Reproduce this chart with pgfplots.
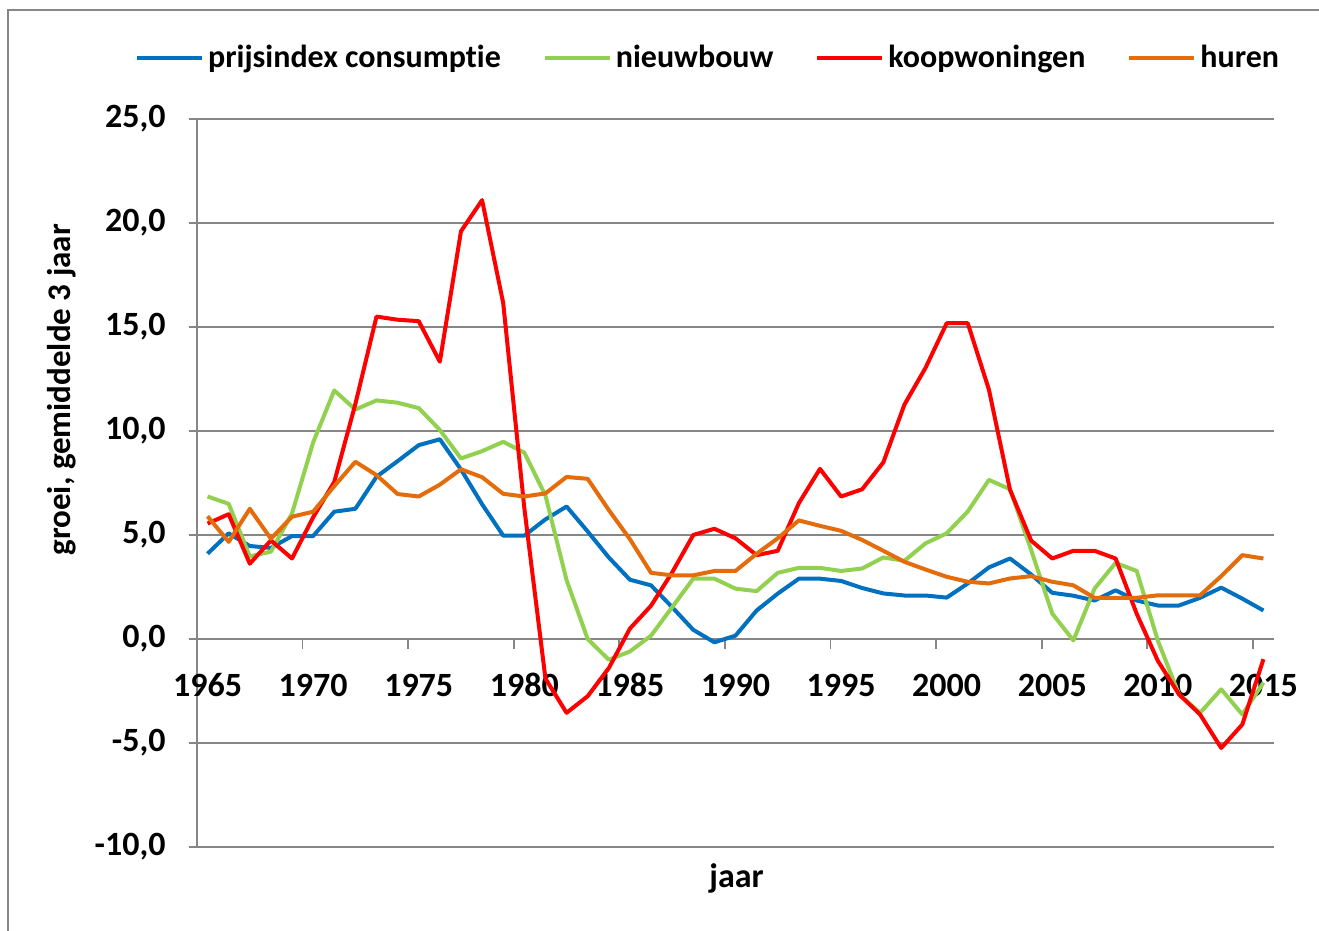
\documentclass[border=0pt]{standalone}
\usepackage{pgfplots}
\pgfplotsset{compat=1.18}
\usepackage{pgfplotstable}
\usepackage{fontspec}
\setmainfont{Carlito}[Ligatures=NoCommon]
\definecolor{cblue}{HTML}{0070C0}
\definecolor{cgreen}{HTML}{92D050}
\definecolor{cred}{HTML}{FF0000}
\definecolor{corange}{HTML}{E46C0A}
\definecolor{cgrid}{HTML}{868686}

\pgfplotstableread{
year blue green red orange
1965 4.10 6.85 5.55 5.90
1966 5.08 6.50 6.00 4.67
1967 4.47 3.97 3.62 6.26
1968 4.38 4.20 4.74 4.82
1969 4.95 6.04 3.87 5.88
1970 4.95 9.45 5.85 6.12
1971 6.12 11.95 7.55 7.35
1972 6.26 11.03 11.30 8.52
1973 7.80 11.47 15.50 7.88
1974 8.55 11.36 15.35 6.97
1975 9.32 11.10 15.28 6.85
1976 9.60 10.05 13.33 7.42
1977 8.15 8.68 19.60 8.16
1978 6.48 9.03 21.10 7.78
1979 4.97 9.48 16.15 6.98
1980 4.97 8.96 6.30 6.85
1981 5.75 6.90 -1.90 7.00
1982 6.37 2.83 -3.55 7.79
1983 5.17 0.00 -2.75 7.70
1984 3.92 -1.00 -1.40 6.20
1985 2.85 -0.60 0.50 4.80
1986 2.58 0.16 1.60 3.18
1987 1.53 1.53 3.20 3.06
1988 0.44 2.90 5.00 3.06
1989 -0.16 2.90 5.30 3.27
1990 0.16 2.42 4.84 3.27
1991 1.37 2.30 4.03 4.10
1992 2.18 3.18 4.24 4.84
1993 2.90 3.42 6.53 5.70
1994 2.90 3.42 8.18 5.44
1995 2.79 3.27 6.85 5.20
1996 2.45 3.39 7.20 4.76
1997 2.19 3.92 8.49 4.24
1998 2.09 3.76 11.27 3.71
1999 2.09 4.60 13.04 3.34
2000 1.99 5.08 15.18 2.99
2001 2.67 6.13 15.18 2.75
2002 3.44 7.65 11.99 2.67
2003 3.87 7.20 7.17 2.91
2004 3.10 4.28 4.73 3.02
2005 2.22 1.22 3.87 2.75
2006 2.08 -0.07 4.24 2.58
2007 1.85 2.42 4.24 1.98
2008 2.34 3.66 3.87 1.98
2009 1.85 3.27 1.21 1.98
2010 1.61 -0.08 -1.05 2.10
2011 1.61 -2.66 -2.66 2.10
2012 1.98 -3.55 -3.63 2.10
2013 2.47 -2.42 -5.24 3.02
2014 1.94 -3.63 -4.11 4.03
2015 1.37 -2.10 -0.97 3.87
}\datatable

\begin{document}
\begin{tikzpicture}
\useasboundingbox (0,0) rectangle (659.5pt,465.5pt);
\fill[white] (0,0) rectangle (659.5pt,465.5pt);
\draw[cgrid, line width=1pt] (4pt,0) -- (4pt,460.5pt) -- (659.5pt,460.5pt);
\begin{axis}[
  at={(98.5pt,42pt)}, anchor=south west,
  scale only axis, width=538.5pt, height=364pt,
  xmin=1964.5, xmax=2015.5, ymin=-10, ymax=25,
  axis x line=middle, axis y line=left,
  axis line style={cgrid, line width=0.9pt, -},
  ymajorgrids, grid style={cgrid, line width=0.9pt},
  font=\fontsize{17}{20}\selectfont\bfseries,
  ytick={-10,-5,0,5,10,15,20,25},
  xtick={1965,1970,...,2015},
  xticklabels={1965,1970,1975,1980,1985,1990,1995,2000,2005,2010,2015},
  xtick style={draw=none},
  ytick style={cgrid, line width=0.9pt},
  tick align=outside, major tick length=4pt,
  extra x ticks={1969.5,1974.5,...,2014.5},
  extra x tick labels={},
  extra x tick style={xtick style={draw=cgrid, line width=0.9pt}, major tick length=5pt, tick align=outside},
  /pgf/number format/assume math mode=true,
  yticklabel style={/pgf/number format/fixed, /pgf/number format/fixed zerofill,
    /pgf/number format/precision=1, /pgf/number format/use comma,
    anchor=east, inner sep=0pt, xshift=-11.5pt},
  xticklabel style={anchor=center, inner sep=0pt, yshift=-19pt},
  xlabel={jaar}, ylabel={groei, gemiddelde 3 jaar},
  xlabel style={at={(axis description cs:0.501,-0.0426)}, anchor=center},
  ylabel style={at={(axis description cs:-0.1253,0.628)}, anchor=center, font=\fontsize{16.5}{20}\selectfont\bfseries},
  legend columns=4,
  legend style={draw=none, fill=none, at={(axis description cs:0.4755,1.0835)}, anchor=center,
    /tikz/every even column/.append style={column sep=19pt},
    font=\fontsize{16}{19}\selectfont\bfseries},
  legend image code/.code={\draw[#1, line width=2pt] (0pt,0pt) -- (32.5pt,0pt);},
  every axis plot/.append style={line width=2pt, line join=round, mark=none},
]
\addplot[cblue] table[x=year, y=blue] {\datatable};
\addlegendentry{prijsindex consumptie}
\addplot[cgreen] table[x=year, y=green] {\datatable};
\addlegendentry{nieuwbouw}
\addplot[cred] table[x=year, y=red] {\datatable};
\addlegendentry{koopwoningen}
\addplot[corange] table[x=year, y=orange] {\datatable};
\addlegendentry{huren}
\end{axis}
\end{tikzpicture}
\end{document}
